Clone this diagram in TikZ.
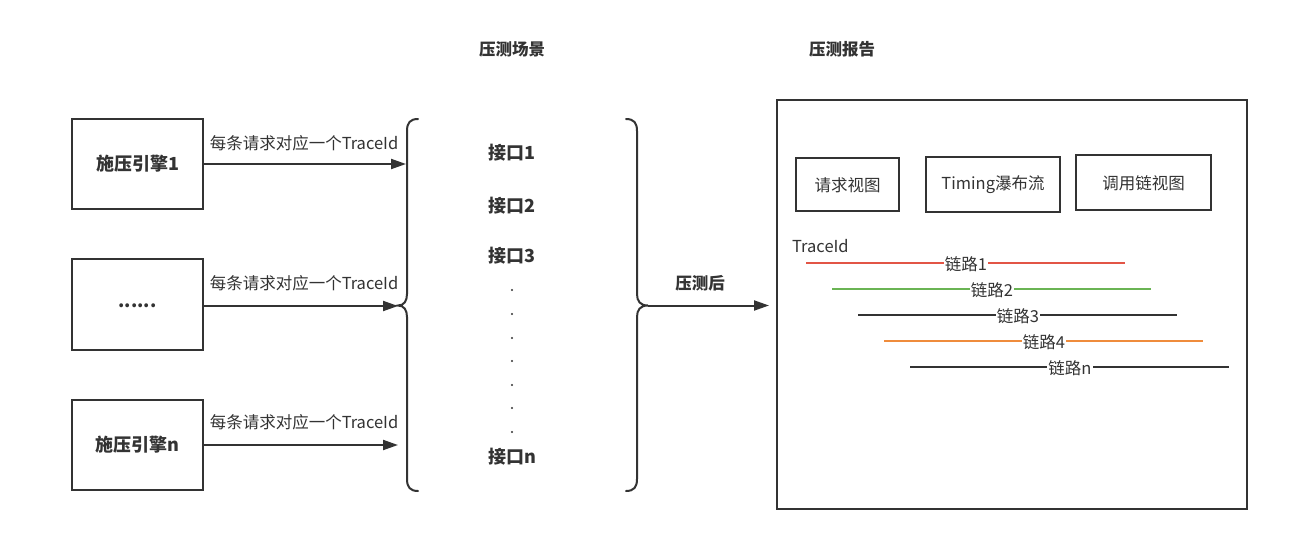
\documentclass[tikz,border=0pt]{standalone}
\usepackage{fontspec}
\setmainfont{Noto Sans CJK SC}
\usetikzlibrary{arrows.meta}
\definecolor{ink}{RGB}{51,51,51}
\definecolor{lred}{RGB}{226,85,70}
\definecolor{lgreen}{RGB}{106,180,84}
\definecolor{lorange}{RGB}{239,140,60}
\begin{document}
\begin{tikzpicture}[x=1pt,y=-1pt,
  every node/.style={text=ink,inner sep=0pt},
  box/.style={draw=ink,line width=2pt},
  bold/.style={font=\fontsize{18}{18}\selectfont\bfseries},
  title/.style={font=\fontsize{16.5}{16.5}\selectfont\bfseries},
  reg/.style={font=\fontsize{16.5}{16.5}\selectfont},
  arr/.style={draw=ink,line width=2pt,-{Triangle[length=15pt,width=10pt]}},
  brace/.style={draw=ink,line width=2pt,line cap=round},
  trace/.style={line width=2pt},
  lbl/.style={reg,fill=white,inner xsep=1pt}
]
\useasboundingbox[fill=white] (0,0) rectangle (1316,541);

% engines
\draw[box] (72,119) rectangle (203,209);
\node[bold] (e1) at (137.5,164) {施压引擎1};
\draw[box] (72,259) rectangle (203,350);
\node[bold] (e2) at (137.5,306) {......};
\draw[box] (72,400) rectangle (203,490);
\node[bold] (e3) at (137.5,445) {施压引擎n};

\coordinate (e1r) at (203,164);
\coordinate (e2r) at (203,306);
\coordinate (e3r) at (203,445);
\coordinate (b1) at (406,164);
\coordinate (b2) at (398,306);
\coordinate (b3) at (398,445);

\draw[arr] (e1r) -- (b1);
\draw[arr] (e2r) -- (b2);
\draw[arr] (e3r) -- (b3);
\node[reg] (l1) at (304,143) {每条请求对应一个TraceId};
\node[reg] (l2) at (304,283) {每条请求对应一个TraceId};
\node[reg] (l3) at (304,422) {每条请求对应一个TraceId};

% braces
\draw[brace] (418,119) .. controls (410,119) and (407,123) .. (407,131) -- (407,294)
  .. controls (407,301) and (404,305.5) .. (398,305.5)
  .. controls (404,305.5) and (407,310) .. (407,317) -- (407,479)
  .. controls (407,487) and (410,491) .. (418,491);
\draw[brace] (626,119) .. controls (634,119) and (637,123) .. (637,131) -- (637,294)
  .. controls (637,301) and (640,305.5) .. (648,305.5)
  .. controls (640,305.5) and (637,310) .. (637,317) -- (637,479)
  .. controls (637,487) and (634,491) .. (626,491);

\node[title] (t1) at (512,49) {压测场景};
\node[title] (t2) at (842,49) {压测报告};

\node[bold] (i1) at (512,153) {接口1};
\node[bold] (i2) at (512,206) {接口2};
\node[bold] (i3) at (512,256) {接口3};
\foreach \yy in {290,314,338,361,385,408,432}
  \fill[ink] (512,\yy) circle (1.2pt);
\node[bold] (in) at (512,457) {接口n};

% after
\coordinate (rb) at (648,305.5);
\coordinate (rep) at (769,305.5);
\draw[arr] (rb) -- (rep);
\node[title] (after) at (700,283) {压测后};

% report
\draw[box] (777,100) rectangle (1247,509);
\draw[box] (796,158) rectangle (899,211);
\node[reg] (v1) at (847.5,185) {请求视图};
\draw[box] (926,157) rectangle (1060,212);
\node[reg] (v2) at (993,185) {Timing瀑布流};
\draw[box] (1076,155) rectangle (1211,210);
\node[reg] (v3) at (1143.5,183) {调用链视图};

\node[reg,anchor=west] (tid) at (792,246) {TraceId};

\draw[trace,lred] (806,263) -- (1125,263);
\node[lbl] at (966,264) {链路1};
\draw[trace,lgreen] (832,289) -- (1151,289);
\node[lbl] at (992,290) {链路2};
\draw[trace,ink] (858,315) -- (1177,315);
\node[lbl] at (1018,316) {链路3};
\draw[trace,lorange] (884,341) -- (1203,341);
\node[lbl] at (1044,342) {链路4};
\draw[trace,ink] (910,367) -- (1229,367);
\node[lbl] at (1070,368) {链路n};
\end{tikzpicture}
\end{document}
